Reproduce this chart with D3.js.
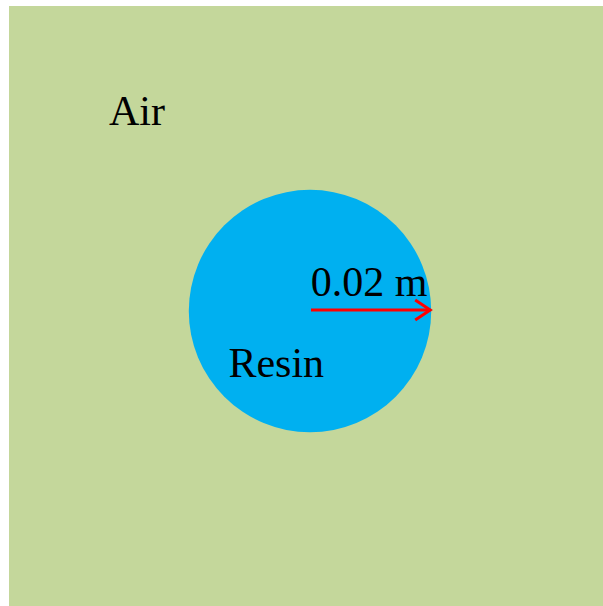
<!DOCTYPE html>
<html>
<head>
<meta charset="utf-8">
<script src="https://cdn.jsdelivr.net/npm/d3@7"></script>
<style>
  html, body { margin: 0; padding: 0; background: #fff; }
</style>
</head>
<body>
<svg id="scene" width="603" height="606"></svg>
<script>
// domain size in metres and the resin disc
var domainSize = [0.098, 0.099];
var discCenter = [0.04966, 0.05033];
var discRadius = 0.02;
var labels = ["Air", "Resin", "0.02 m"];
var labelPos = [[0.0165, 0.0197], [0.0362, 0.0612], [0.0498, 0.0478]];

var svg = d3.select("svg#scene");

var x = d3.scaleLinear().domain([0, domainSize[0]]).range([9, 603]);
var y = d3.scaleLinear().domain([0, domainSize[1]]).range([6, 606]);

// air region
svg.append("rect")
  .attr("x", x(0))
  .attr("y", y(0))
  .attr("width", x(domainSize[0]) - x(0))
  .attr("height", y(domainSize[1]) - y(0))
  .attr("fill", "#c4d79b");

// resin disc
svg.append("circle")
  .attr("cx", x(discCenter[0]))
  .attr("cy", y(discCenter[1]))
  .attr("r", y(discRadius) - y(0))
  .attr("fill", "#00b0f0");

// radius arrow
var ax0 = x(discCenter[0]) + 1,
  ax1 = x(discCenter[0]) + y(discRadius) - y(0),
  ay = y(discCenter[1]) - 1;

svg.append("line")
  .attr("x1", ax0)
  .attr("y1", ay)
  .attr("x2", ax1 - 1)
  .attr("y2", ay)
  .attr("stroke", "#ff0000")
  .attr("stroke-width", 3);

svg.append("path")
  .attr("d", d3.line()([[ax1 - 16, ay - 10], [ax1 - 1, ay], [ax1 - 16, ay + 10]]))
  .attr("fill", "none")
  .attr("stroke", "#ff0000")
  .attr("stroke-width", 3);

// labels
svg.append("g")
  .selectAll("text")
  .data(labels)
  .enter()
  .append("text")
  .attr("x", function (d, i) { return x(labelPos[i][0]); })
  .attr("y", function (d, i) { return y(labelPos[i][1]); })
  .attr("font-family", "Liberation Serif, Times New Roman, serif")
  .attr("font-size", 42)
  .attr("fill", "#000")
  .text(function (d) { return d; });
</script>
</body>
</html>
